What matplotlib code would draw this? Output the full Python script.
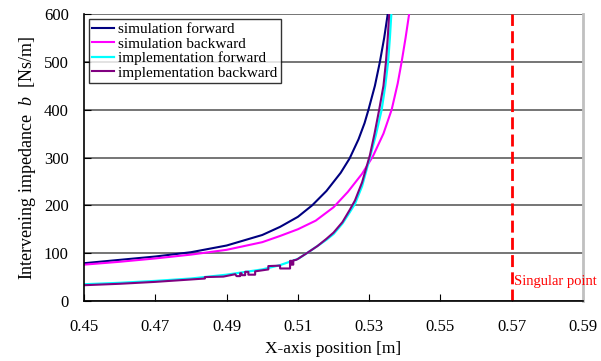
import matplotlib
matplotlib.use("Agg")
import matplotlib.pyplot as plt

plt.rcParams['font.family'] = ['Liberation Serif', 'DejaVu Serif']
plt.rcParams['mathtext.fontset'] = 'custom'
plt.rcParams['mathtext.it'] = 'Liberation Serif:italic'
plt.rcParams['mathtext.rm'] = 'Liberation Serif'

# simulation forward
sim_fwd_x = [0.450, 0.460, 0.470, 0.480, 0.490, 0.500, 0.505, 0.510, 0.514, 0.518,
             0.522, 0.5245, 0.527, 0.5287, 0.5298, 0.5316, 0.533, 0.5342, 0.5352]
sim_fwd_y = [79, 86, 93, 102, 116, 138, 155, 176, 200, 230,
             268, 298, 338, 372, 400, 450, 500, 550, 600]

# simulation backward
sim_bwd_x = [0.450, 0.460, 0.470, 0.480, 0.490, 0.500, 0.505, 0.510, 0.515, 0.520,
             0.524, 0.528, 0.531, 0.534, 0.5363, 0.538, 0.5391, 0.5402, 0.5412]
sim_bwd_y = [76, 82, 89, 97, 107, 123, 136, 150, 168, 196,
             228, 266, 302, 350, 400, 455, 500, 550, 600]

# implementation forward
imp_fwd_x = [0.450, 0.460, 0.470, 0.480, 0.490, 0.500, 0.505, 0.510, 0.5125, 0.5155,
             0.518, 0.520, 0.5225, 0.5245, 0.526, 0.528, 0.5302, 0.5318, 0.5335, 0.5345,
             0.5353, 0.5358, 0.5362]
imp_fwd_y = [35, 38, 42, 47, 55, 66, 75, 88, 100, 115,
             128, 140, 162, 185, 203, 240, 300, 345, 400, 450,
             500, 550, 600]

# implementation backward (stepped)
imp_bwd_x = [0.450, 0.460, 0.470, 0.480, 0.4839, 0.4839, 0.4891, 0.4924, 0.4928, 0.4938,
             0.4938, 0.4942, 0.4942, 0.4952, 0.4952, 0.4961, 0.4961, 0.4980, 0.4980, 0.5017,
             0.5017, 0.5050, 0.5050, 0.5078, 0.5078, 0.5082, 0.5082, 0.5087, 0.5087, 0.5095,
             0.510, 0.5125, 0.5155, 0.518, 0.520, 0.5225, 0.5245, 0.526, 0.528, 0.5302,
             0.5315, 0.5328, 0.5340, 0.5347, 0.5352, 0.5356]
imp_bwd_y = [33, 36, 40, 45, 47, 50, 51, 56, 52, 52,
             58, 58, 54, 54, 61, 61, 55, 55, 62, 66,
             73, 74, 68, 68, 84, 84, 76, 76, 85, 86,
             88, 100, 115, 130, 143, 165, 190, 210, 248, 305,
             350, 400, 450, 500, 550, 600]

singular_x = 0.57
x_ticks = [0.45, 0.47, 0.49, 0.51, 0.53, 0.55, 0.57, 0.59]
y_ticks = [0, 100, 200, 300, 400, 500, 600]

fig = plt.figure(figsize=(6.01, 3.61), dpi=100)
ax = fig.add_axes([0.1398, 0.1662, 0.8304, 0.795])

ax.set_xlim(0.45, 0.59)
ax.set_ylim(0, 600)
ax.set_xticks(x_ticks)
ax.set_xticklabels(['%.2f' % v for v in x_ticks])
ax.set_yticks(y_ticks)
ax.yaxis.grid(True, color='#505050', linewidth=1.1)
ax.set_axisbelow(True)

ax.plot(sim_fwd_x, sim_fwd_y, color='#000080', lw=1.5, label='simulation forward')
ax.plot(sim_bwd_x, sim_bwd_y, color='#ff00ff', lw=1.5, label='simulation backward')
ax.plot(imp_fwd_x, imp_fwd_y, color='#00ffff', lw=1.6, label='implementation forward')
ax.plot(imp_bwd_x, imp_bwd_y, color='#800080', lw=1.5, label='implementation backward')

ax.plot([singular_x, singular_x], [0, 600], color='#ff0000', lw=2, dashes=(4.3, 1.9))
ax.text(singular_x + 0.0005, 40, 'Singular point', color='#ff0000', fontsize=10.5,
        va='center', ha='left')

ax.spines['top'].set_visible(False)
ax.spines['right'].set_color('#c0c0c0')
ax.spines['right'].set_linewidth(2)
ax.spines['left'].set_linewidth(1.2)
ax.spines['bottom'].set_linewidth(1.2)

ax.tick_params(direction='in', length=5, labelsize=12)
ax.tick_params(axis='x', pad=13)
ax.tick_params(axis='y', pad=11)

ax.set_xlabel('X-axis position [m]', fontsize=12.5, labelpad=4)
ax.set_ylabel('Intervening impedance  $b$  [Ns/m]', fontsize=13, labelpad=4)

leg = ax.legend(loc='upper left', fontsize=11, frameon=True, fancybox=False,
                edgecolor='black', handlelength=1.4, handletextpad=0.3,
                labelspacing=0.05, borderpad=0.25, borderaxespad=0.3)
leg.get_frame().set_linewidth(1.0)

fig.savefig('out.png', dpi=100)
